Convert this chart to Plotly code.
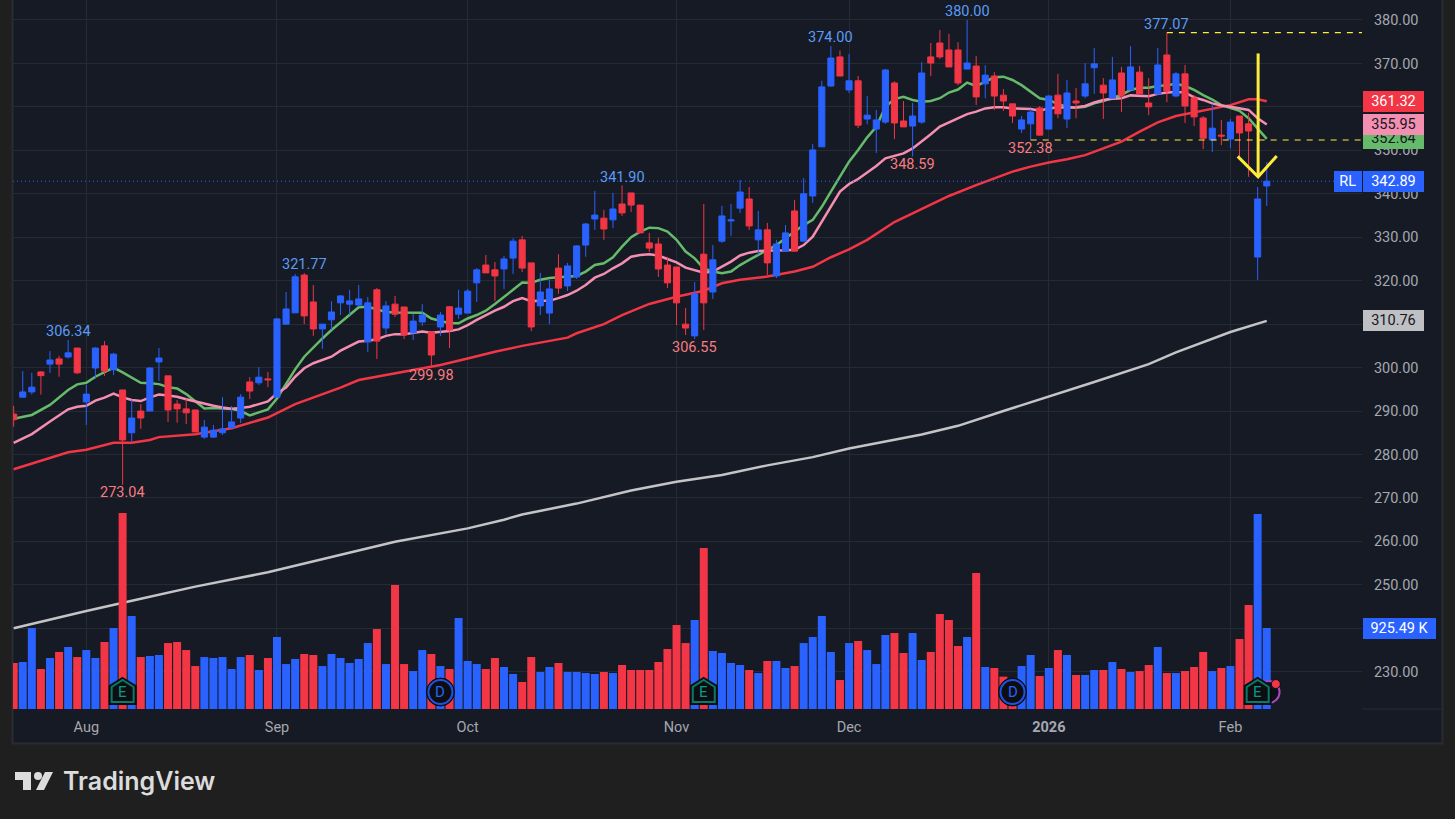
import plotly.graph_objects as go

# ---------- data ----------
opens = [289.3,293.2,294.4,299.0,300.8,302.0,302.45,304.5,292.1,299.9,
305.0,299.5,294.85,285.0,290.0,290.0,301.3,298.1,291.6,290.5,
290.25,284.0,284.0,285.0,286.1,288.4,296.7,296.5,297.4,293.2,
310.0,312.6,321.3,315.1,308.9,311.0,314.9,314.6,314.4,305.9,
317.9,309.1,314.6,313.95,308.0,310.5,308.2,309.35,314.0,312.3,
312.55,319.5,323.6,322.5,322.7,325.2,329.4,324.1,314.2,312.55,
322.9,318.8,320.85,328.2,334.2,334.4,334.0,337.65,340.2,337.4,
328.7,328.45,323.6,323.15,310.0,307.3,326.1,317.4,329.1,333.75,
336.7,338.8,329.4,331.7,321.1,326.8,336.05,329.1,339.5,350.8,
364.8,371.5,363.9,366.0,357.2,354.9,356.5,365.5,356.75,355.6,
356.5,371.5,374.7,373.1,373.1,368.7,369.4,365.3,367.1,362.7,
360.7,354.9,356.1,359.75,354.9,362.7,357.2,361.35,362.5,369.0,
365.0,362.0,367.8,363.9,368.0,360.9,362.95,371.95,362.5,367.6,
362.05,357.45,352.4,353.5,352.6,357.9,356.1,325.45,341.8]
closes = [288.0,294.4,295.5,298.15,301.75,300.8,303.4,298.8,293.9,304.5,
299.2,303.1,283.35,288.4,288.4,299.9,302.2,290.25,290.5,289.6,
285.2,286.3,285.6,285.9,287.5,293.2,294.6,297.8,297.2,311.2,
313.5,320.9,311.9,308.9,310.0,312.8,316.5,315.35,315.8,314.9,
306.1,314.2,312.3,307.5,310.7,312.1,302.9,312.1,308.65,313.7,
317.6,322.5,321.8,321.1,325.0,329.1,322.9,309.35,317.4,318.1,
318.3,323.4,328.0,333.05,335.1,331.9,336.5,335.6,337.4,331.0,
327.5,322.7,319.5,314.9,309.1,316.95,314.9,324.8,334.9,334.0,
340.4,332.6,331.7,324.1,328.45,331.0,326.8,340.0,350.1,364.6,
371.25,367.1,366.0,355.8,358.1,357.0,368.5,356.3,355.4,357.9,
367.8,370.1,371.5,369.2,365.5,370.1,362.3,367.3,362.5,361.35,
357.9,357.0,358.8,353.5,362.5,358.4,363.2,360.9,365.3,369.9,
363.2,366.2,362.7,369.2,363.0,360.0,369.65,363.65,367.6,360.2,
357.7,352.8,355.1,353.3,356.5,354.0,354.45,338.8,342.89]
highs = [291.2,299.2,298.8,299.2,303.8,302.7,306.34,304.5,296.0,304.7,
306.1,303.4,294.85,292.6,291.6,300.1,304.5,298.1,292.5,292.8,
290.3,287.95,286.8,293.2,291.2,293.9,297.8,300.1,299.0,311.4,
317.4,321.55,321.77,319.0,310.0,315.3,316.7,317.9,319.0,316.25,
318.3,315.3,316.5,314.0,312.3,314.6,308.2,312.8,314.2,317.9,
318.1,322.9,325.9,324.3,325.7,329.8,330.3,324.1,321.8,320.2,
326.1,324.1,328.2,333.3,340.65,336.3,340.2,341.9,340.2,337.4,
331.0,329.9,325.5,323.15,313.7,319.7,337.65,328.2,337.2,337.65,
343.2,341.55,336.05,333.3,329.4,332.8,338.6,343.6,351.5,366.0,
374.0,373.0,372.2,367.1,362.5,359.3,368.7,365.9,361.35,360.9,
370.3,374.7,377.7,376.8,374.9,380.0,371.7,369.6,368.0,364.1,
360.7,357.9,359.5,360.2,362.7,367.6,366.2,364.35,370.1,373.55,
366.65,371.5,369.2,374.0,369.4,366.65,373.55,377.07,368.0,369.65,
362.7,357.9,360.7,357.0,357.2,357.9,358.6,341.55,347.3]
lows = [286.4,293.1,293.8,293.8,298.8,297.9,302.1,298.5,286.8,297.4,
298.1,298.3,273.04,282.9,285.9,290.0,296.9,287.5,287.3,287.0,
285.2,283.6,283.8,284.5,286.1,287.25,292.8,296.0,295.5,293.2,
310.0,312.6,310.0,307.3,304.3,308.65,312.1,312.1,314.0,303.6,
302.0,307.7,311.65,306.6,306.35,309.6,299.98,307.3,304.5,311.2,
312.55,315.1,321.8,315.3,318.1,321.55,322.0,308.4,312.1,310.0,
317.0,317.6,320.4,325.5,331.7,329.4,332.1,334.9,335.8,331.0,
326.6,320.85,318.3,309.8,307.5,306.55,308.65,315.8,328.7,330.3,
335.6,331.7,325.9,321.3,320.6,326.8,326.8,329.1,337.9,350.8,
364.6,367.1,363.2,355.1,356.0,349.4,356.1,352.6,355.4,348.59,
356.1,367.1,371.0,369.2,365.0,368.7,360.4,362.0,359.3,359.05,
356.3,354.0,352.38,353.5,354.9,357.4,355.1,357.4,362.0,363.0,
357.2,362.0,358.8,363.9,363.0,358.1,362.7,361.1,362.2,356.3,
355.6,350.3,349.6,351.2,350.5,348.2,343.9,320.2,337.2]
volumes_k = [526,537,926,457,583,652,709,594,674,583,
766,926,2240,1063,594,606,617,754,766,674,
491,594,583,594,457,594,617,446,583,823,
514,572,629,617,491,629,583,526,572,754,
914,514,1417,514,434,674,629,491,457,1040,
549,514,457,583,480,400,309,594,423,480,
526,423,423,411,400,423,411,503,446,446,
446,537,686,960,754,1017,1840,663,640,526,
503,446,411,549,549,469,491,754,823,1063,
652,331,754,777,674,514,846,869,640,869,
560,652,1086,1017,720,823,1554,480,469,370,
351,491,617,377,469,674,617,389,389,446,
446,537,457,423,434,503,709,411,411,434,
480,652,434,469,491,800,1189,2229,926]

green_x = [0,2,4,6,7,8,9,11,12,13,14,15,16,17,18,19,20,21,22,23,24,25,26,27,28,29,30,31,32,33,34,35,36,37,38,39,40,41,42,43,44,45,46,47,48,49,50,51,52,53,54,55,56,57,58,59,60,61,62,63,64,65,66,67,68,69,70,71,72,73,74,75,76,77,78,79,80,81,82,83,84,85,86,87,88,89,90,91,92,93,94,95,96,97,98,99,100,101,102,103,104,105,106,107,108,109,110,111,112,113,114,115,116,117,118,119,120,121,122,123,124,125,126,127,128,129,130,131,132,133,134,135,136,137,138]
green_ma = [288.25,289.1,291.4,294.85,296.15,296.5,297.9,300.0,298.9,297.7,296.5,296.4,296.2,295.5,295.2,293.9,292.2,290.6,290.7,290.6,290.5,290.0,289.0,289.7,290.4,292.9,296.4,299.6,302.5,304.7,306.7,308.65,310.4,312.1,313.9,314.0,313.4,312.8,312.7,312.65,312.65,312.65,311.3,310.8,310.2,310.2,311.3,312.1,313.1,314.65,316.2,317.9,319.6,319.55,320.2,320.6,320.8,321.0,321.1,322.1,323.6,324.0,325.4,327.85,330.0,331.3,332.2,332.1,331.3,329.4,326.7,325.15,322.85,322.1,321.7,322.1,323.6,324.8,325.9,327.1,328.2,329.75,331.3,332.8,334.0,337.0,340.5,343.95,347.4,350.1,353.0,355.4,360.05,361.8,362.3,361.6,361.2,361.35,362.0,363.3,364.0,365.6,364.8,365.8,366.8,366.95,366.2,365.0,363.5,362.0,361.6,360.65,360.05,359.8,360.05,360.8,361.35,362.0,362.75,363.9,364.4,364.4,364.8,365.0,365.3,364.8,363.9,362.7,361.7,360.4,359.8,359.1,357.4,355.05,352.64]

pink_x = [0,2,4,6,7,8,9,10,11,12,13,14,15,16,17,18,19,20,21,22,23,24,25,26,27,28,29,30,31,32,33,34,35,36,37,38,39,40,41,42,43,44,45,46,47,48,49,50,51,52,53,54,55,56,57,58,59,60,61,62,63,64,65,66,67,68,69,70,71,72,73,74,75,76,77,78,79,80,81,82,83,84,85,86,87,88,89,90,91,92,93,94,95,96,97,98,99,100,101,102,103,104,105,106,107,108,109,110,111,112,113,114,115,116,117,118,119,120,121,122,123,124,125,126,127,128,129,130,131,132,133,134,135,136,137,138]
pink_ma = [282.7,284.7,287.6,290.4,291.0,291.2,292.4,293.1,294.0,293.15,292.55,292.3,293.15,293.8,293.6,293.3,292.7,292.2,291.6,291.2,290.8,290.55,290.7,291.0,291.6,292.2,294.1,295.4,297.9,299.85,301.0,301.75,302.5,303.9,305.0,306.0,306.2,306.5,307.3,307.7,307.65,307.9,308.3,308.0,308.2,308.4,308.8,309.8,311.0,312.1,313.1,314.0,315.3,316.0,315.3,315.4,315.4,316.0,316.7,317.7,319.0,320.7,321.55,322.85,324.0,325.5,325.9,326.1,325.8,325.0,324.2,323.0,322.5,321.85,322.1,323.2,324.4,325.8,326.45,326.85,326.85,326.85,327.0,327.1,328.2,330.15,333.6,337.0,340.5,342.25,343.4,344.9,346.4,348.15,348.7,349.3,350.45,352.0,353.7,355.45,356.45,357.4,358.35,358.9,359.65,359.9,359.9,359.65,359.65,359.5,359.1,359.65,359.9,359.8,359.9,360.2,361.0,361.6,361.9,362.0,362.65,362.6,362.45,363.0,363.3,363.4,363.3,362.2,361.6,360.8,360.3,360.05,359.7,359.3,357.4,355.95]

red_x = [0,4,6,8,11,13,15,16,20,24,28,31,36,38,41,44,47,50,53,56,59,61,62,65,67,70,73,76,78,80,83,86,88,90,92,94,97,100,103,106,108,110,112,114,116,118,120,122,124,125,126,128,130,132,134,136,137,138]
red_ma = [276.6,279.1,280.5,281.1,282.7,282.7,283.35,284.0,284.65,286.05,288.5,291.6,295.4,297.15,298.3,299.45,300.6,302.1,303.65,305.0,306.1,306.9,307.9,310.0,312.1,314.65,316.3,317.7,319.4,320.2,320.95,322.1,323.2,325.4,327.2,329.4,333.5,336.5,339.5,342.0,343.55,345.1,346.25,347.2,347.95,348.9,350.45,352.0,354.3,355.45,356.45,357.9,358.7,359.5,360.4,361.75,361.75,361.32]

gray_x = [0,8,14,20,28,35,42,50,54,56,62,68,73,78,83,88,92,100,104,109,114,119,125,128,134,138]
gray_ma = [240.0,244.0,246.8,249.6,252.9,256.4,259.9,263.0,265.0,266.2,268.7,271.7,273.74,275.3,277.5,279.4,281.4,284.6,286.6,290.0,293.3,296.7,300.8,303.5,308.2,310.76]

month_ticks = [8,29,50,73,92,114,134]
month_text = ["Aug","Sep","Oct","Nov","Dec","<b>2026</b>","Feb"]
price_ticks = [230,240,250,260,270,280,290,300,310,320,330,340,350,360,370,380]

extreme_idx = [6,32,67,90,105,127,12,46,75,99,112]
extreme_val = [306.34,321.77,341.90,374.00,380.00,377.07,273.04,299.98,306.55,348.59,352.38]

earn_idx = [12,76,137]
div_idx = [47,110]
marker_vol = 194

last_price = 342.89
last_volume = 925.49

# ---------- page geometry ----------
W, H = 1455, 819
L, R, T, B = 13, 1362, 0, 709
BG = "#161a25"
OUT = "#1f1f1f"
GRID = "#252a35"
TXT = "#a5a8b0"
UP, DN = "#2962ff", "#f23645"
xr = [-0.073, 148.49]
yr = [221.43, 384.6]
vr = [0, 8104]
FONT = "Roboto"
FS = 14.5

def xp(px):
    return (px - L) / (R - L)
def yp(py):
    return (B - py) / (B - T)

n = len(opens)
idx = list(range(n))
bar_colors = [UP if c >= o else DN for o, c in zip(opens, closes)]

fig = go.Figure()

# moving averages on the bottom layer
for xs, ys, col in [(gray_x, gray_ma, "#c4c4c6"), (red_x, red_ma, DN),
                    (green_x, green_ma, "#66bb6a"), (pink_x, pink_ma, "#f48fb1")]:
    fig.add_trace(go.Scatter(x=xs, y=ys, mode="lines", line=dict(color=col, width=2.5),
                             hoverinfo="skip", yaxis="y"))
# volume
fig.add_trace(go.Bar(x=idx, y=volumes_k, marker=dict(color=bar_colors, line_width=0),
                     yaxis="y2", hoverinfo="skip"))
# candles
fig.add_trace(go.Candlestick(x=idx, open=opens, high=highs, low=lows, close=closes,
                             increasing=dict(line=dict(color=UP, width=1), fillcolor=UP),
                             decreasing=dict(line=dict(color=DN, width=1), fillcolor=DN),
                             yaxis="y3", hoverinfo="skip", whiskerwidth=0))
# yellow drawing tools
YEL = "#ffeb3b"
fig.add_trace(go.Scatter(x=[127, xr[1]], y=[377.07, 377.07], mode="lines",
                         line=dict(color=YEL, width=1.2, dash="6px,6px"), hoverinfo="skip", yaxis="y4"))
fig.add_trace(go.Scatter(x=[112, xr[1]], y=[352.38, 352.38], mode="lines",
                         line=dict(color=YEL, width=1.2, dash="6px,6px"), hoverinfo="skip", yaxis="y4"))
fig.add_trace(go.Scatter(x=[137.05, 137.05, None, 134.8, 137.05, 139.1],
                         y=[372.3, 343.9, None, 348.6, 343.9, 348.7], mode="lines",
                         line=dict(color=YEL, width=3), hoverinfo="skip", yaxis="y4"))

shapes = []
# chart frame
shapes.append(dict(type="rect", xref="paper", yref="paper", x0=xp(12.5), x1=xp(1442.5), y0=yp(743.5), y1=yp(-2),
                   fillcolor=BG, line=dict(color="#2b2c30", width=2), layer="below"))
# separator below the panes, right-hand side
shapes.append(dict(type="line", xref="paper", yref="paper", x0=1, x1=xp(1442), y0=0, y1=0,
                   line=dict(color="#262a33", width=1), layer="below"))
# last price line
shapes.append(dict(type="line", xref="paper", yref="y", x0=0, x1=1, y0=last_price, y1=last_price,
                   line=dict(color=UP, width=1, dash="1px,3px"), layer="above"))

def pix_shape(path, xanchor, fill, line, lw):
    return dict(type="path", xref="x", yref="y2", xsizemode="pixel", ysizemode="pixel",
                xanchor=xanchor, yanchor=marker_vol, path=path, fillcolor=fill,
                line=dict(color=line, width=lw), layer="above")

# purple ring + red dot behind/after last earnings marker
shapes.append(dict(type="circle", xref="x", yref="y2", xsizemode="pixel", ysizemode="pixel",
                   xanchor=138.2, yanchor=marker_vol, x0=-11, x1=11, y0=-11, y1=11,
                   line=dict(color="#ab47bc", width=2), fillcolor="rgba(12,14,20,0.9)", layer="above"))
HOUSE = "M0,14 L13,6 L13,-12 L-13,-12 L-13,6 Z"
HOUSEI = "M0,12 L11,5 L11,-10 L-11,-10 L-11,5 Z"
for i in earn_idx:
    shapes.append(pix_shape(HOUSE, i, "#0c0e12", "#0b0d12", 2))
    shapes.append(pix_shape(HOUSEI, i, "#0c0e12", "#0a7a68", 2))
for i in div_idx:
    shapes.append(dict(type="circle", xref="x", yref="y2", xsizemode="pixel", ysizemode="pixel",
                       xanchor=i, yanchor=marker_vol, x0=-14, x1=14, y0=-14, y1=14,
                       fillcolor="#0c0e12", line=dict(color="#0b0d12", width=1), layer="above"))
    shapes.append(dict(type="circle", xref="x", yref="y2", xsizemode="pixel", ysizemode="pixel",
                       xanchor=i, yanchor=marker_vol, x0=-12, x1=12, y0=-12, y1=12,
                       fillcolor="#0c0e12", line=dict(color="#1e53e5", width=2), layer="above"))
shapes.append(dict(type="circle", xref="x", yref="y2", xsizemode="pixel", ysizemode="pixel",
                   xanchor=139, yanchor=marker_vol, x0=-4.5, x1=4.5, y0=3.5, y1=12.5,
                   fillcolor=DN, line=dict(color="#0b0d12", width=1), layer="above"))

# TradingView logo glyph
def P(px, py):
    return f"{xp(px):.5f},{yp(py):.5f}"
logo = "#dcdcdc"
shapes.append(dict(type="path", xref="paper", yref="paper", layer="above", fillcolor=logo, line_width=0,
                   path=f"M{P(15,772)} L{P(31,772)} L{P(31,790)} L{P(23,790)} L{P(23,780)} L{P(15,780)} Z"))
shapes.append(dict(type="path", xref="paper", yref="paper", layer="above", fillcolor=logo, line_width=0,
                   path=f"M{P(45,772)} L{P(53,772)} L{P(44,790)} L{P(36,790)} Z"))
shapes.append(dict(type="circle", xref="paper", yref="paper", layer="above", fillcolor=logo, line_width=0,
                   x0=xp(34), x1=xp(42), y0=yp(780), y1=yp(772)))

ann = []
# high / low labels
for i, v in zip(extreme_idx, extreme_val):
    up = i in (6, 32, 67, 90, 105, 127)
    ann.append(dict(x=i, y=v, xref="x", yref="y", text=f"{v:.2f}", showarrow=False,
                    yanchor="middle", yshift=8.5 if up else -8, xanchor="center",
                    font=dict(family=FONT, size=FS, color="#5b9cf6" if up else "#f77c80")))

def tag(y, txt, bg, fg, px0=1363, w=61, yref="y"):
    ann.append(dict(x=xp(px0), y=y, xref="paper", yref=yref, xanchor="left", yanchor="middle",
                    text=txt, showarrow=False, bgcolor=bg, width=w, height=21, borderpad=0, borderwidth=0,
                    align="center", valign="middle", font=dict(family=FONT, size=FS, color=fg)))

tag(361.32, "361.32", DN, "#ffffff")
tag(352.64, "352.64", "#66bb6a", "#131722")
tag(355.95, "355.95", "#f48fb1", "#131722")
tag(last_price, "342.89", UP, "#ffffff")
tag(last_price, "RL", UP, "#ffffff", px0=1334, w=27.5)
tag(310.76, "310.76", "#bfc0c4", "#131722")
tag(last_volume, f"{last_volume:.2f} K", UP, "#ffffff", w=73, yref="y2")

for i in earn_idx:
    ann.append(dict(x=i, y=marker_vol, xref="x", yref="y2", text="E", showarrow=False,
                    font=dict(family=FONT, size=15, color="#0b9981")))
for i in div_idx:
    ann.append(dict(x=i, y=marker_vol, xref="x", yref="y2", text="D", showarrow=False,
                    font=dict(family=FONT, size=15, color="#2962ff")))

ann.append(dict(x=xp(60.5), y=yp(781), xref="paper", yref="paper", xanchor="left", yanchor="middle",
                text="TradingView", showarrow=False,
                font=dict(family="Inter", size=25, weight=600, color=logo)))

fig.update_layout(
    width=W, height=H, autosize=False,
    margin=dict(l=L, r=W - R, t=T, b=H - B, pad=0),
    paper_bgcolor=OUT, plot_bgcolor=BG,
    showlegend=False, bargap=0.12, boxgap=0.33, boxgroupgap=0,
    dragmode=False, hovermode=False,
    font=dict(family=FONT, size=FS, color=TXT),
    xaxis=dict(range=xr, tickmode="array", tickvals=month_ticks, ticktext=month_text,
               showgrid=True, gridcolor=GRID, gridwidth=1, zeroline=False, showline=False,
               rangeslider=dict(visible=False), ticks="outside", ticklen=5, tickcolor="rgba(0,0,0,0)",
               tickfont=dict(family=FONT, size=FS, color=TXT), fixedrange=True),
    yaxis=dict(range=yr, side="right", tickmode="array", tickvals=price_ticks, tickformat=".2f",
               showgrid=True, gridcolor=GRID, gridwidth=1, zeroline=False, showline=False,
               ticks="outside", ticklen=8, tickcolor="rgba(0,0,0,0)",
               tickfont=dict(family=FONT, size=FS, color=TXT), fixedrange=True),
    yaxis2=dict(range=vr, overlaying="y", visible=False, fixedrange=True),
    yaxis3=dict(range=yr, overlaying="y", visible=False, fixedrange=True),
    yaxis4=dict(range=yr, overlaying="y", visible=False, fixedrange=True),
    shapes=shapes, annotations=ann,
)

fig.write_html("out.html", config=dict(displayModeBar=False, staticPlot=True),
               post_script="document.body.style.margin='0';document.body.style.overflow='hidden';")
